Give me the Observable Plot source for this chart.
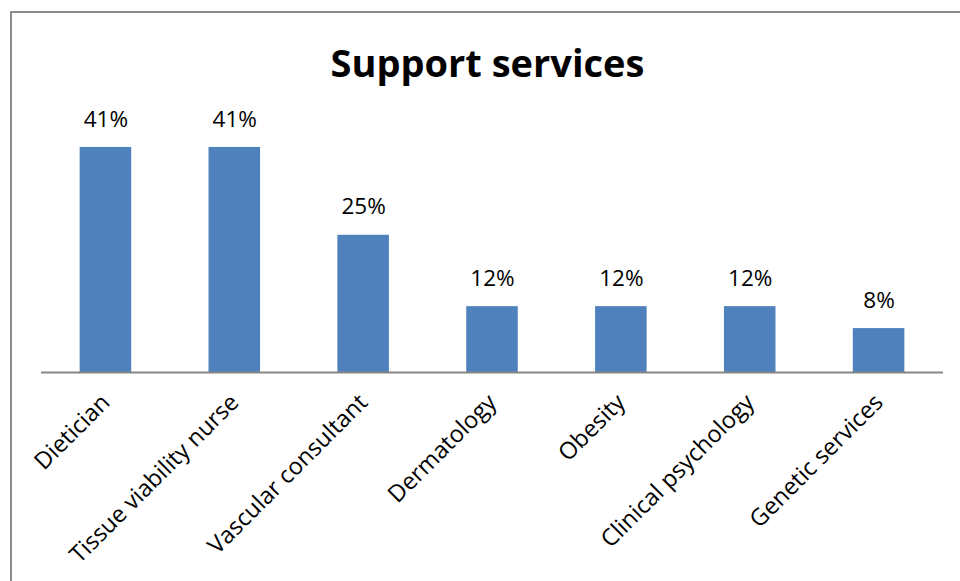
<!DOCTYPE html>
<html>
<head>
<meta charset="utf-8">
<script src="https://cdn.jsdelivr.net/npm/d3@7"></script>
<script src="https://cdn.jsdelivr.net/npm/@observablehq/plot@0.6"></script>
<style>
  html, body { margin: 0; padding: 0; background: #fff; }
  #wrap { position: relative; width: 960px; height: 581px; overflow: hidden; }
  #border { position: absolute; left: 10px; top: 11px; width: 1000px; height: 700px; border: 2px solid #8c8c8c; box-sizing: border-box; pointer-events: none; }
  #chart { position: absolute; left: 0; top: 0; }
</style>
</head>
<body>
<div id="wrap"><div id="chart"></div><div id="border"></div></div>
<script>
const title = "Support services";
const categories = ["Dietician", "Tissue viability nurse", "Vascular consultant", "Dermatology", "Obesity", "Clinical psychology", "Genetic services"];
const values = [41, 41, 25, 12, 12, 12, 8];

const data = categories.map((c, i) => ({category: c, value: values[i]}));

const chart = Plot.plot({
  width: 960,
  height: 581,
  marginLeft: 41,
  marginRight: 17,
  marginTop: 125,
  marginBottom: 209,
  style: {fontFamily: "'Open Sans', sans-serif", fontSize: "20px", color: "#000", background: "transparent"},
  x: {domain: categories, paddingInner: 0.6, paddingOuter: 0.3, round: false, label: null},
  y: {domain: [0, 45], axis: null},
  marks: [
    Plot.barY(data, {x: "category", y: "value", fill: "#4F81BD"}),
    Plot.ruleY([0], {stroke: "#868686", strokeWidth: 2}),
    Plot.text(data, {x: "category", y: "value", text: d => d.value + "%", dy: -28, lineAnchor: "middle", fontSize: 22.5, fill: "#000"}),
    Plot.axisX({tickSize: 0, tickPadding: 26, tickRotate: -45, fontSize: 23.5, fill: "#000"}),
    Plot.text([title], {frameAnchor: "top", dx: -5, dy: -61, lineAnchor: "middle", fontSize: 38, fontWeight: "bold", fill: "#000"})
  ]
});
document.getElementById("chart").appendChild(chart);
</script>
</body>
</html>
